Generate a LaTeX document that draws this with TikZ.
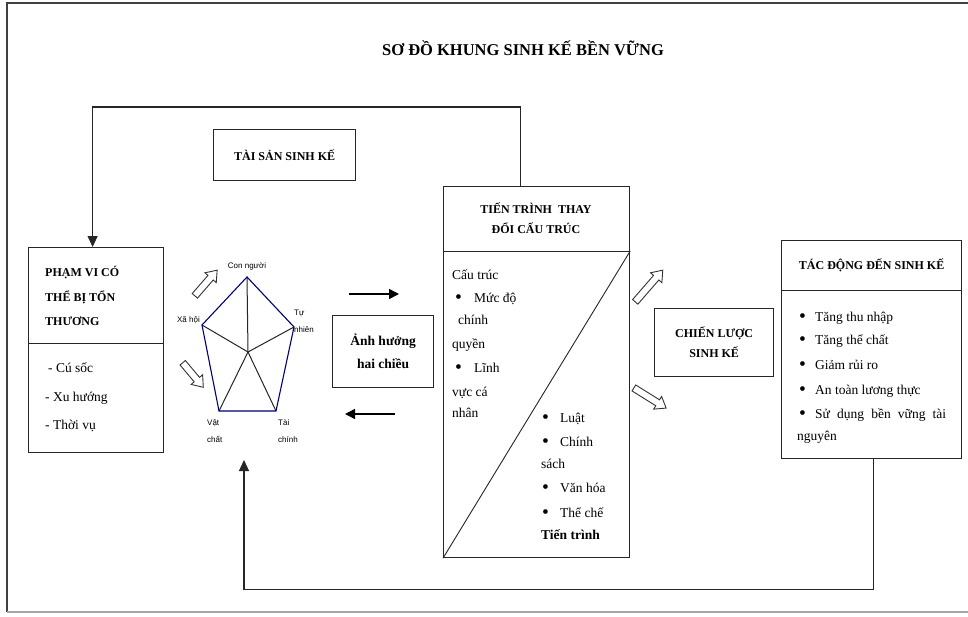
\documentclass[tikz,border=0pt]{standalone}
\usepackage{fontspec}
\setmainfont{Liberation Serif}
\newfontfamily\lsans{Liberation Sans}
\usetikzlibrary{arrows.meta,calc}
\newcommand{\bul}[1]{\makebox[#1][l]{\raisebox{-1.8pt}{\scalebox{1.45}{•}}}}
\begin{document}
\begin{tikzpicture}[x=1pt,y=-1pt,
  box/.style={draw=black!85,line width=1.2pt,rectangle,inner sep=0pt,anchor=north west},
  hdr/.style={font=\fontsize{12}{20}\selectfont\bfseries,align=center,inner sep=0pt},
  txt/.style={font=\fontsize{13.5}{16}\selectfont,anchor=base west,inner sep=0pt},
  btxt/.style={font=\fontsize{12}{14}\selectfont\bfseries,anchor=base west,inner sep=0pt},
  conn/.style={draw=black!85,line width=1.2pt},
  blk/.style={draw=black,line width=1.5pt,-{Triangle[length=10pt,width=10pt]}},
  hollow/.style={draw=black!80,line width=0.9pt,fill=white,line join=miter},
  pent/.style={draw=blue!45!black,line width=1.1pt},
  spoke/.style={draw=black!85,line width=1pt},
  plab/.style={font=\lsans\fontsize{8}{17}\selectfont,inner sep=0pt,align=left}]
\useasboundingbox (0,0) rectangle (968,616);
\fill[white] (0,0) rectangle (968,616);
% frame
\draw[black!75,line width=1.3pt] (968,3) -- (7,3) -- (7,612);
\draw[black!35,line width=1.3pt] (7,612) -- (968,612);
% title
\node[font=\fontsize{16.5}{20}\selectfont\bfseries] (title) at (523,48) {SƠ ĐỒ KHUNG SINH KẾ BỀN VỮNG};
% tai san box
\node[box,minimum width=142,minimum height=51] (tais) at (213,129) {};
\node[hdr] (taist) at (tais.center) {TÀI SẢN SINH KẾ};
% left box
\node[box,minimum width=135,minimum height=96] (lhead) at (28,247) {};
\node[box,minimum width=135,minimum height=109] (lbody) at (28,343) {};
\foreach \t/\x/\y [count=\i] in {PHẠM VI CÓ/45/276, THỂ BỊ TỔN/45/301, THƯƠNG/45/325}
  \node[btxt] (lh\i) at (\x,\y) {\t};
\foreach \t/\x/\y [count=\i] in {- Cú sốc/48/372, - Xu hướng/45/401, - Thời vụ/45/429}
  \node[txt] (lb\i) at (\x,\y) {\t};
% pentagon
\coordinate (p1) at (247,277);
\coordinate (p2) at (294,327);
\coordinate (p3) at (276,411);
\coordinate (p4) at (219,411);
\coordinate (p5) at (202,325);
\coordinate (pc) at (248,352);
\foreach \p in {p1,p2,p3,p4,p5} \draw[spoke] (pc) -- (\p);
\draw[pent] (p1) -- (p2) -- (p3) -- (p4) -- (p5) -- cycle;
\node[plab,anchor=south] (lcon) at (247,270) {Con người};
\node[plab,anchor=east] (lxa) at (200,320) {Xã hội};
\node[plab,anchor=west] (ltu) at (294,321) {Tự\\nhiên};
\node[plab,anchor=west] (lvat) at (207,431) {Vật\\chất};
\node[plab,anchor=west] (ltai) at (278,431) {Tài\\chính};
% hollow arrows
\foreach \x/\y/\a/\L in {206/283/49/34, 193/375/-50/32, 649/286/49/42, 650/398/-32/38}
  \draw[hollow,shift={(\x,\y)},rotate=\a] (-\L/2,-3.5) -- (\L/2-10,-3.5) -- (\L/2-10,-7.5) -- (\L/2,0) -- (\L/2-10,7.5) -- (\L/2-10,3.5) -- (-\L/2,3.5) -- cycle;
% anh huong box
\node[box,minimum width=101,minimum height=72] (anh) at (332,315) {};
\node[font=\fontsize{13.5}{23}\selectfont\bfseries,align=center,inner sep=0pt] (anht) at (anh.center) {Ảnh hưởng\\hai chiều};
\coordinate (a1s) at (349,294);
\coordinate (a1e) at (399,294);
\coordinate (a2s) at (395,414);
\coordinate (a2e) at (345,414);
\draw[blk] (a1s) -- (a1e);
\draw[blk] (a2s) -- (a2e);
% middle box
\node[box,minimum width=186,minimum height=65] (mhead) at (443,186) {};
\node[box,minimum width=186,minimum height=306] (mbody) at (443,251) {};
\node[hdr] (mht) at (536,218) {TIẾN TRÌNH \ THAY\\ĐỔI CẤU TRÚC};
\draw[spoke,line width=0.9pt] (mbody.south west) -- (mbody.north east);
\foreach \t/\x/\y [count=\i] in {Cấu trúc/452/279, {\bul{19pt}Mức độ}/455/302, chính/458/324, quyền/452/348, {\bul{19pt}Lĩnh}/455/372, vực cá/452/396, nhân/452/417}
  \node[txt] (ml\i) at (\x,\y) {\t};
\foreach \t/\x/\y [count=\i] in {{\bul{18pt}Luật}/542/422, {\bul{18pt}Chính}/542/446, sách/541/468, {\bul{18pt}Văn hóa}/542/492, {\bul{18pt}Thể chế}/542/517}
  \node[txt] (mr\i) at (\x,\y) {\t};
\node[txt,font=\fontsize{13.5}{16}\selectfont\bfseries] (mtt) at (541,539) {Tiến trình};
% chien luoc
\node[box,minimum width=119,minimum height=68] (chien) at (654,308) {};
\node[hdr] (chient) at (chien.center) {CHIẾN LƯỢC\\SINH KẾ};
% tac dong
\node[box,minimum width=180,minimum height=50] (thead) at (781,240) {};
\node[box,minimum width=180,minimum height=168] (tbody) at (781,290) {};
\node[hdr] (tht) at (thead.center) {TÁC ĐỘNG ĐẾN SINH KẾ};
\foreach \t/\x/\y [count=\i] in {{\bul{16pt}Tăng thu nhập}/799/321, {\bul{16pt}Tăng thể chất}/799/344, {\bul{16pt}Giảm rủi ro}/799/369, {\bul{16pt}An toàn lương thực}/799/394, {\bul{16pt}\makebox[131pt][s]{Sử dụng bền vững tài}}/799/418, nguyên/797/440}
  \node[txt] (tb\i) at (\x,\y) {\t};
% feedback connectors
\draw[conn,-{Triangle[length=11pt,width=10pt]}] ([xshift=-16pt]mhead.north) -- ++(0,-79) -| ([xshift=-3.5pt]lhead.north);
\coordinate (fb) at (244,460);
\draw[conn,-{Triangle[length=11pt,width=10pt]}] ([xshift=2pt]tbody.south) -- ++(0,130) -| (fb);
\end{tikzpicture}
\end{document}
